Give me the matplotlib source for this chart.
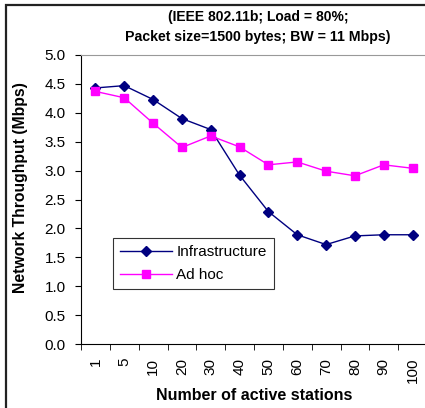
import matplotlib
matplotlib.use("Agg")
import matplotlib.pyplot as plt
from matplotlib.patches import Rectangle

categories = ["1", "5", "10", "20", "30", "40", "50", "60", "70", "80", "90", "100"]
infrastructure = [4.43, 4.47, 4.23, 3.90, 3.71, 2.92, 2.29, 1.89, 1.72, 1.87, 1.89, 1.89]
adhoc = [4.37, 4.26, 3.82, 3.40, 3.60, 3.41, 3.10, 3.15, 2.99, 2.91, 3.10, 3.04]
yticks = [0.0, 0.5, 1.0, 1.5, 2.0, 2.5, 3.0, 3.5, 4.0, 4.5, 5.0]

plt.rcParams['font.family'] = ['Liberation Sans', 'DejaVu Sans']

W, H = 425, 408
fig = plt.figure(figsize=(W / 100, H / 100), dpi=100)

# outer frame
fig.patches.append(Rectangle((6 / W, -0.05), 1.1, 1 - 5 / H + 0.05, transform=fig.transFigure,
                             fill=False, edgecolor="#222222", linewidth=1.6, zorder=0))

ax = fig.add_axes([81 / W, 1 - 344 / H, 346 / W, 289 / H])
x = list(range(len(categories)))
ax.plot(x, infrastructure, color="#000080", marker="D", markersize=5, linewidth=1.0,
        label="Infrastructure")
ax.plot(x, adhoc, color="#FF00FF", marker="s", markersize=5.5, linewidth=1.0,
        label="Ad hoc")

ax.set_xlim(-0.5, len(categories) - 0.5)
ax.set_ylim(0, 5)
ax.set_yticks(yticks)
ax.set_yticklabels([f"{v:.1f}" for v in yticks], fontsize=11)
ax.set_xticks(x)
ax.set_xticklabels(categories, rotation=90, fontsize=11)
ax.set_xticks([i - 0.5 for i in range(len(categories) + 1)], minor=True)
ax.tick_params(axis="x", which="major", length=0, pad=10)
ax.tick_params(axis="x", which="minor", length=4, direction="out", color="black")
ax.tick_params(axis="y", length=4, direction="out", color="black", pad=7)

ax.spines["left"].set_color("black")
ax.spines["bottom"].set_color("black")
ax.spines["top"].set_color("#999999")
ax.spines["right"].set_visible(False)

ax.set_ylabel("Network Throughput (Mbps)", fontsize=11.3, fontweight="bold")
ax.yaxis.set_label_coords((28 - 81) / 346, (344 - 187.5) / 289)
ax.set_xlabel("Number of active stations", fontsize=11.5, fontweight="bold", labelpad=3)

fig.text(258 / W, 1 - 17 / H, "(IEEE 802.11b; Load = 80%;", ha="center", va="center",
         fontsize=10, fontweight="bold")
fig.text(258 / W, 1 - 37 / H, "Packet size=1500 bytes; BW = 11 Mbps)", ha="center", va="center",
         fontsize=10.2, fontweight="bold")

leg = ax.legend(loc="upper left", bbox_to_anchor=((113 - 81) / 346, (344 - 238) / 289),
                fontsize=11, frameon=True, fancybox=False, borderpad=0.45,
                handlelength=3.4, handletextpad=0.3, labelspacing=0.6, borderaxespad=0)
leg.get_frame().set_edgecolor("black")
leg.get_frame().set_linewidth(0.8)

fig.savefig("out.png", dpi=100)
